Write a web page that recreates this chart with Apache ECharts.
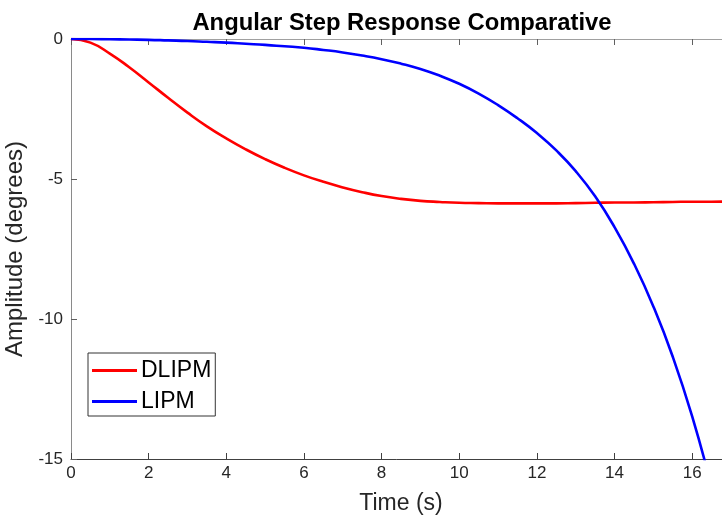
<!DOCTYPE html>
<html>
<head>
<meta charset="utf-8">
<script src="https://cdn.jsdelivr.net/npm/echarts@6/dist/echarts.min.js"></script>
<style>
  html, body { margin: 0; padding: 0; background: #fff; }
  #chart { width: 722px; height: 518px; }
</style>
</head>
<body>
<div id="chart"></div>
<script>
// time samples, every 0.5 s
let timeDlipm = [0, 0.5, 1, 1.5, 2, 2.5, 3, 3.5, 4, 4.5, 5, 5.5, 6, 6.5, 7, 7.5, 8, 8.5, 9, 9.5, 10, 10.5, 11, 11.5, 12, 12.5, 13, 13.5, 14, 14.5, 15, 15.5, 16, 16.5, 17]
// DLIPM response (red)
let ampDlipm = [0, -0.13, -0.52, -1.01, -1.55, -2.1, -2.63, -3.12, -3.55, -3.94, -4.29, -4.6, -4.87, -5.1, -5.3, -5.47, -5.61, -5.71, -5.78, -5.82, -5.85, -5.86, -5.87, -5.87, -5.87, -5.87, -5.86, -5.85, -5.84, -5.84, -5.83, -5.82, -5.81, -5.81, -5.8]
let timeLipm = [0, 0.5, 1, 1.5, 2, 2.5, 3, 3.5, 4, 4.5, 5, 5.5, 6, 6.5, 7, 7.5, 8, 8.5, 9, 9.5, 10, 10.5, 11, 11.5, 12, 12.5, 13, 13.5, 14, 14.5, 15, 15.5, 16, 16.5]
// LIPM response (blue)
let ampLipm = [0, 0, -0.01, -0.02, -0.03, -0.05, -0.07, -0.1, -0.13, -0.17, -0.21, -0.26, -0.31, -0.39, -0.48, -0.59, -0.72, -0.88, -1.07, -1.31, -1.6, -1.95, -2.36, -2.83, -3.36, -3.98, -4.72, -5.62, -6.72, -8.02, -9.55, -11.35, -13.48, -16.0]

const font = 'Liberation Sans, Arial, sans-serif'
const pairs = (xs, ys) => xs.map((x, i) => [x, ys[i]])

const chart = echarts.init(document.getElementById('chart'))
chart.setOption({
  backgroundColor: '#fff',
  animation: false,
  title: {
    text: 'Angular Step Response Comparative',
    left: 397,
    textAlign: 'center',
    top: 6,
    textStyle: { fontFamily: font, fontSize: 23.8, fontWeight: 'bold', color: '#000' }
  },
  grid: { left: 71, top: 39, bottom: 59, right: -9, outerBoundsMode: 'none' },
  legend: {
    orient: 'vertical',
    left: 88,
    top: 353,
    padding: [6, 4, 3, 4],
    itemGap: 8,
    itemWidth: 45,
    itemHeight: 3,
    icon: 'rect',
    backgroundColor: '#fff',
    borderColor: '#333',
    borderWidth: 1,
    textStyle: { fontFamily: font, fontSize: 23, color: '#000', padding: [0, 0, 0, -1] },
    data: ['DLIPM', 'LIPM']
  },
  xAxis: [
    {
      type: 'value',
      min: 0,
      max: 17,
      interval: 2,
      name: 'Time (s)',
      nameLocation: 'middle',
      nameGap: 33,
      nameTextStyle: { fontFamily: font, fontSize: 23, color: '#262626' },
      axisLine: { onZero: false, lineStyle: { color: '#404040', width: 1 } },
      axisTick: { inside: true, length: 6, lineStyle: { color: '#404040' } },
      axisLabel: { fontFamily: font, fontSize: 17, color: '#262626', margin: 6, showMaxLabel: false },
      splitLine: { show: false }
    },
    {
      type: 'value',
      position: 'top',
      min: 0,
      max: 17,
      interval: 2,
      axisLine: { onZero: false, lineStyle: { color: '#a0a0a0', width: 1 } },
      axisTick: { inside: true, length: 6, lineStyle: { color: '#606060' } },
      axisLabel: { show: false },
      splitLine: { show: false }
    }
  ],
  yAxis: {
    type: 'value',
    min: -15,
    max: 0,
    interval: 5,
    name: 'Amplitude (degrees)',
    nameLocation: 'middle',
    nameGap: 38,
    nameTextStyle: { fontFamily: font, fontSize: 24, color: '#262626' },
    axisLine: { show: true, onZero: false, lineStyle: { color: '#8a8a8a', width: 1 } },
    axisTick: { show: true, inside: true, length: 6, lineStyle: { color: '#606060' } },
    axisLabel: { fontFamily: font, fontSize: 17, color: '#262626', margin: 8 },
    splitLine: { show: false }
  },
  series: [
    {
      name: 'DLIPM',
      type: 'line',
      smooth: true,
      symbol: 'none',
      color: '#ff0000',
      lineStyle: { color: '#ff0000', width: 2.6 },
      data: pairs(timeDlipm, ampDlipm)
    },
    {
      name: 'LIPM',
      type: 'line',
      smooth: true,
      symbol: 'none',
      color: '#0000ff',
      lineStyle: { color: '#0000ff', width: 2.6 },
      data: pairs(timeLipm, ampLipm)
    }
  ]
})
</script>
</body>
</html>
